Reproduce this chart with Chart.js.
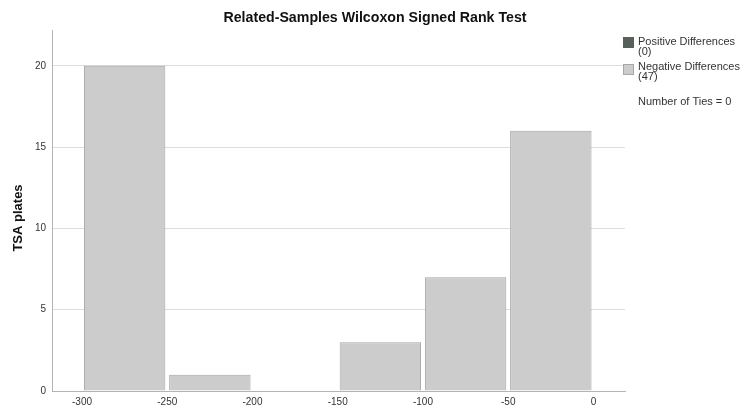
<!DOCTYPE html>
<html><head><meta charset="utf-8">
<script src="https://cdn.jsdelivr.net/npm/chart.js@4/dist/chart.umd.min.js"></script>
<style>html,body{margin:0;padding:0;background:#fff;}#wrap{width:740px;height:407px;position:relative;}</style>
</head><body><div id="wrap"><canvas id="c" width="740" height="407"></canvas></div>
<script>
const chartTitle = "Related-Samples Wilcoxon Signed Rank Test";
const yTitle = "TSA plates";
const binCenters = [-275, -225, -175, -125, -75, -25];
const negativeCounts = [20, 1, 0, 3, 7, 16];
const positiveCounts = [0, 0, 0, 0, 0, 0];
const legendLabels = [["Positive Differences", "(0)"], ["Negative Differences", "(47)"]];
const tiesLabel = "Number of Ties = 0";
const xTicks = [-300, -250, -200, -150, -100, -50, 0];
const yTicks = [0, 5, 10, 15, 20];

const FONT = "'Liberation Sans', Arial, sans-serif";

const overlay = {
  id: 'overlay',
  afterDraw(chart) {
    const ctx = chart.ctx;
    ctx.save();
    ctx.fillStyle = '#111';
    ctx.font = 'bold 14.2px ' + FONT;
    ctx.textAlign = 'center';
    ctx.textBaseline = 'middle';
    ctx.fillText(chartTitle, 375, 18);
    // y title
    ctx.save();
    ctx.translate(18, 218);
    ctx.rotate(-Math.PI / 2);
    ctx.font = 'bold 13px ' + FONT;
    ctx.fillText(yTitle, 0, 0);
    ctx.restore();
    // legend
    const boxes = [{fill:'#58605c', stroke:'#58605c'}, {fill:'#cccccc', stroke:'#a8a8a8'}];
    ctx.font = '11px ' + FONT;
    ctx.textAlign = 'left';
    const ys = [37, 64];
    const ty = [41.5, 66.5];
    legendLabels.forEach((lab, i) => {
      const y = ys[i];
      ctx.fillStyle = boxes[i].fill;
      ctx.fillRect(623, y, 11, 11);
      ctx.strokeStyle = boxes[i].stroke;
      ctx.lineWidth = 1;
      ctx.strokeRect(623.5, y + 0.5, 10, 10);
      ctx.fillStyle = '#333';
      ctx.fillText(lab[0], 638, ty[i]);
      ctx.fillText(lab[1], 638, ty[i] + 10.5);
    });
    ctx.fillText(tiesLabel, 638, 101.5);
    ctx.restore();
  }
};

function keepTicks(list) {
  return function(scale) {
    scale.ticks = list.map(v => ({value: v}));
  };
}

new Chart(document.getElementById('c'), {
  type: 'bar',
  data: {
    datasets: [
      { label: legendLabels[0].join(' '), data: binCenters.map((x, i) => ({x, y: positiveCounts[i] || null})),
        backgroundColor: '#58605c', borderColor: '#58605c', borderWidth: 1,
        barPercentage: 0.955, categoryPercentage: 1, grouped: false },
      { label: legendLabels[1].join(' '), data: binCenters.map((x, i) => ({x, y: negativeCounts[i] || null})),
        backgroundColor: '#cccccc', borderColor: '#a4a4a4', borderWidth: 1,
        barPercentage: 0.955, categoryPercentage: 1, grouped: false }
    ]
  },
  options: {
    responsive: false,
    animation: false,
    layout: { padding: { left: 0, right: 115, top: 30, bottom: 0 } },
    plugins: { legend: { display: false }, title: { display: false }, tooltip: { enabled: false } },
    scales: {
      x: {
        type: 'linear', min: -317.6, max: 18.5, offset: false,
        afterBuildTicks: keepTicks(xTicks),
        afterFit(s) { s.height = 16; },
        grid: { display: false, drawTicks: false, offset: false },
        border: { display: true, color: '#b4b4b4', width: 1 },
        ticks: { padding: 5, color: '#333', font: { family: FONT, size: 10 }, maxRotation: 0, autoSkip: false }
      },
      y: {
        min: 0, max: 22.2,
        afterBuildTicks: keepTicks(yTicks),
        afterFit(s) { s.width = 52; },
        grid: { color: '#dddddd', drawTicks: false, lineWidth: 1 },
        border: { display: true, color: '#b4b4b4', width: 1 },
        title: { display: false },
        ticks: { padding: 6, color: '#333', font: { family: FONT, size: 10 } }
      }
    }
  },
  plugins: [overlay]
});
</script>
</body></html>
